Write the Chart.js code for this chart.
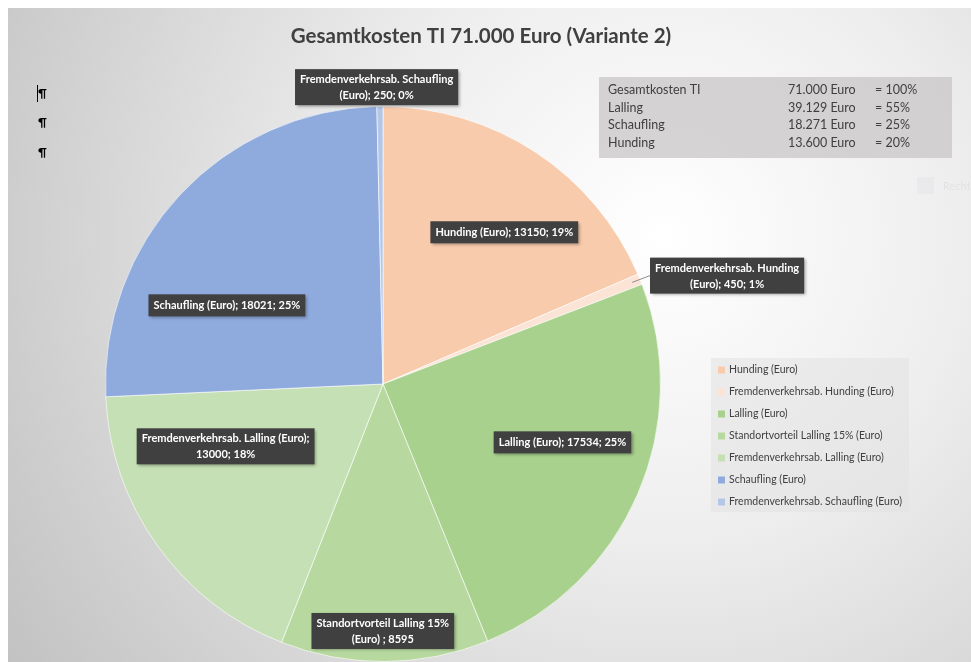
<!DOCTYPE html>
<html lang="de">
<head>
<meta charset="utf-8">
<title>Gesamtkosten TI (Variante 2)</title>
<script src="https://cdn.jsdelivr.net/npm/chart.js@4.4.1/dist/chart.umd.min.js"></script>
<style>
  html, body { margin: 0; padding: 0; background: #fff; overflow: hidden; }
  #frame {
    position: absolute; left: 8px; top: 8px; width: 963px; height: 654px;
    background: radial-gradient(circle farthest-corner at 68% 35%, #ffffff 0%, #eeeeee 38%, #c2c2c2 100%);
  }
</style>
</head>
<body>
<div id="frame"><canvas id="chart"></canvas></div>
<script>
const chartTitle = 'Gesamtkosten TI 71.000 Euro (Variante 2)';

const categories = [
    'Hunding (Euro)',
    'Fremdenverkehrsab. Hunding (Euro)',
    'Lalling (Euro)',
    'Standortvorteil Lalling 15% (Euro)',
    'Fremdenverkehrsab. Lalling (Euro)',
    'Schaufling (Euro)',
    'Fremdenverkehrsab. Schaufling (Euro)'
];
const values = [13150, 450, 17534, 8595, 13000, 18021, 250];
const showPercent = [true, true, true, false, true, true, true];
const sliceColors = ['#F8CBAD', '#FBE3D6', '#A9D18E', '#B7D99F', '#C5E0B4', '#8FAADC', '#B4C7E7'];

// summary box, top right
const summaryNames = ['Gesamtkosten TI', 'Lalling', 'Schaufling', 'Hunding'];
const summaryAmounts = ['71.000 Euro', '39.129 Euro', '18.271 Euro', '13.600 Euro'];
const summaryShares = ['= 100%', '= 55%', '= 25%', '= 20%'];

const FONT = 'Lato, "DejaVu Sans", sans-serif';
const dark = '#404040';

// where each data label sits: angle shift from slice middle (deg), distance as part of radius,
// words on first line (0 = one line), leader line
const labelPlacement = [
    { da: 5.3, rf: 0.70, firstLine: 0 },
    { da: 4.7, rf: 1.30, firstLine: 2, leader: true },
    { da: -5.4, rf: 0.68, firstLine: 0 },
    { da: 0.4, rf: 0.89, firstLine: 3 },
    { da: 14, rf: 0.61, firstLine: 3 },
    { da: -16.3, rf: 0.63, firstLine: 0 },
    { da: -0.6, rf: 1.07, firstLine: 2 }
];

const total = values.reduce((a, b) => a + b, 0);

function labelText(i) {
    if (showPercent[i]) {
        return `${categories[i]}; ${values[i]}; ${Math.round(values[i] / total * 100)}%`;
    }
    return `${categories[i]} ; ${values[i]}`;
}

function splitLines(text, firstLine) {
    const words = text.split(' ');
    if (!firstLine) return [text];
    return [words.slice(0, firstLine).join(' '), words.slice(firstLine).join(' ')];
}

const decorPlugin = {
    id: 'decor',
    beforeDatasetsDraw(chart) {
        const ctx = chart.ctx;
        ctx.save();

        // title
        ctx.fillStyle = dark;
        ctx.font = `bold 20.5px ${FONT}`;
        ctx.textAlign = 'center';
        ctx.textBaseline = 'middle';
        ctx.fillText(chartTitle, 473, 28);

        // pilcrows left
        ctx.fillStyle = '#000';
        ctx.font = `bold 12px ${FONT}`;
        ctx.textAlign = 'left';
        [85, 114, 144].forEach(y => ctx.fillText('\u00B6', 30, y));
        ctx.fillRect(29, 77, 1, 17);

        // summary box
        ctx.fillStyle = 'rgba(200, 198, 198, 0.75)';
        ctx.fillRect(591, 69, 353, 81);
        ctx.fillStyle = dark;
        ctx.font = `12.5px ${FONT}`;
        summaryNames.forEach((name, i) => {
            const y = 82 + i * 17.7;
            ctx.fillText(name, 600, y);
            ctx.fillText(summaryAmounts[i], 780, y);
            ctx.fillText(summaryShares[i], 867, y);
        });

        // faint leftover legend entry on the right
        ctx.fillStyle = 'rgba(150, 160, 200, 0.07)';
        ctx.fillRect(909, 169, 17, 17);
        ctx.fillStyle = 'rgba(0, 0, 0, 0.05)';
        ctx.font = `11px ${FONT}`;
        ctx.fillText('Rechte', 935, 178);

        // legend
        ctx.fillStyle = 'rgba(225, 225, 225, 0.55)';
        ctx.fillRect(703, 350, 198, 154);
        ctx.font = `10.5px ${FONT}`;
        categories.forEach((name, i) => {
            const y = 362 + i * 22;
            ctx.fillStyle = sliceColors[i];
            ctx.fillRect(710, y - 3.5, 7, 7);
            ctx.fillStyle = dark;
            ctx.fillText(name, 721, y);
        });
        ctx.restore();
    },
    afterDatasetsDraw(chart) {
        const ctx = chart.ctx;
        const meta = chart.getDatasetMeta(0);
        ctx.save();
        ctx.font = `bold 11px ${FONT}`;
        ctx.textAlign = 'center';
        ctx.textBaseline = 'middle';
        meta.data.forEach((arc, i) => {
            const p = arc.getProps(['x', 'y', 'startAngle', 'endAngle', 'outerRadius'], true);
            const place = labelPlacement[i];
            const midA = (p.startAngle + p.endAngle) / 2;
            const a = midA + place.da * Math.PI / 180;
            const cx = p.x + Math.cos(a) * p.outerRadius * place.rf;
            const cy = p.y + Math.sin(a) * p.outerRadius * place.rf;
            const lines = splitLines(labelText(i), place.firstLine);
            const w = Math.max(...lines.map(l => ctx.measureText(l).width)) + 10;
            const lh = 16;
            const h = lines.length * lh + (lines.length > 1 ? 4 : 6);

            if (place.leader) {
                ctx.strokeStyle = '#8c8c8c';
                ctx.lineWidth = 1;
                ctx.beginPath();
                ctx.moveTo(p.x + Math.cos(midA) * p.outerRadius * 0.97, p.y + Math.sin(midA) * p.outerRadius * 0.97);
                ctx.lineTo(cx - w / 2, cy);
                ctx.stroke();
            }

            ctx.save();
            ctx.shadowColor = 'rgba(0, 0, 0, 0.35)';
            ctx.shadowBlur = 3;
            ctx.shadowOffsetX = 1.5;
            ctx.shadowOffsetY = 1.5;
            ctx.fillStyle = '#404040';
            ctx.fillRect(cx - w / 2, cy - h / 2, w, h);
            ctx.restore();

            ctx.fillStyle = '#ffffff';
            lines.forEach((l, k) => {
                ctx.fillText(l, cx, cy + (k - (lines.length - 1) / 2) * lh + 0.5);
            });
        });
        ctx.restore();
    }
};

new Chart(document.getElementById('chart'), {
    type: 'pie',
    data: {
        labels: categories,
        datasets: [{
            data: values,
            backgroundColor: sliceColors,
            borderColor: 'rgba(255, 255, 255, 0.6)',
            borderWidth: 1
        }]
    },
    options: {
        responsive: true,
        maintainAspectRatio: false,
        animation: false,
        layout: { padding: { left: 97, right: 310, top: 98, bottom: 0 } },
        plugins: {
            legend: { display: false },
            title: { display: false },
            tooltip: { enabled: false }
        }
    },
    plugins: [decorPlugin]
});
</script>
</body>
</html>
